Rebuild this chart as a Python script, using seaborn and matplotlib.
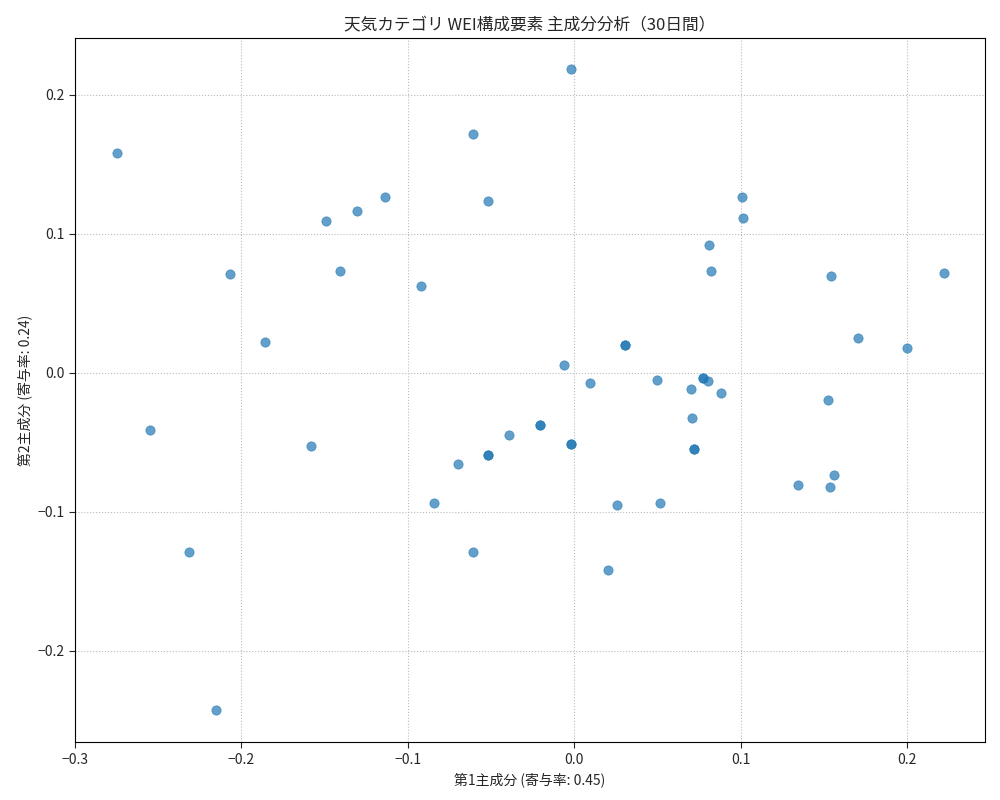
import matplotlib
matplotlib.use("Agg")
import matplotlib.pyplot as plt
import seaborn as sns
import pandas as pd

pc1 = [-0.2745,-0.2547,-0.2312,-0.215,-0.2066,-0.1856,-0.158,-0.149,-0.1405,-0.1303,
       -0.1135,-0.0919,-0.0841,-0.0697,-0.0607,-0.0607,-0.0517,-0.0517,-0.0517,-0.039,
       -0.0204,-0.0204,-0.006,-0.0018,-0.0018,-0.0018,0.0096,0.0204,0.0258,0.0306,0.0306,
       0.0498,0.0517,0.0703,0.0709,0.0721,0.0721,0.0775,0.0775,0.0805,0.0811,0.0823,0.0883,
       0.1009,0.1015,0.1345,0.1526,0.1538,0.1544,0.1562,0.1706,0.2,0.2222]
pc2 = [0.158,-0.041,-0.129,-0.2425,0.071,0.022,-0.053,0.109,0.073,0.1165,
       0.1266,0.062,-0.094,-0.066,0.172,-0.129,0.1237,-0.059,-0.059,-0.045,
       -0.038,-0.038,0.0058,0.2187,-0.051,-0.051,-0.0072,-0.1417,-0.095,0.020,0.020,
       -0.005,-0.0935,-0.0115,-0.0324,-0.0547,-0.0547,-0.0036,-0.0036,-0.0058,0.092,0.0734,-0.015,
       0.1266,0.1115,-0.081,-0.020,-0.082,0.0698,-0.074,0.025,0.018,0.072]

df = pd.DataFrame({"pc1": pc1, "pc2": pc2})
sns.set_style("white")
plt.rcParams['font.family'] = ['Noto Sans CJK JP', 'DejaVu Sans']
plt.rcParams['axes.unicode_minus'] = True

fig, ax = plt.subplots(figsize=(10, 8), dpi=100)
sns.scatterplot(data=df, x="pc1", y="pc2", ax=ax, color="#1f77b4", alpha=0.7, s=45, edgecolor="#1f77b4", linewidth=0.5)
ax.set_xlim(-0.3, 0.2468)
ax.set_ylim(-0.266, 0.241)
ax.set_xticks([-0.3, -0.2, -0.1, 0.0, 0.1, 0.2])
ax.set_yticks([-0.2, -0.1, 0.0, 0.1, 0.2])
ax.grid(True, linestyle=":", color="#bbbbbb", linewidth=0.8)
for s in ax.spines.values():
    s.set_color("black"); s.set_linewidth(0.8)
ax.tick_params(axis="both", length=4, direction="out", bottom=True, left=True)
ax.set_title("天気カテゴリ WEI構成要素 主成分分析（30日間）", fontsize=12)
ax.set_xlabel("第1主成分 (寄与率: 0.45)", fontsize=10)
ax.set_ylabel("第2主成分 (寄与率: 0.24)", fontsize=10)
fig.subplots_adjust(left=0.075, right=0.985, top=0.953, bottom=0.072)
fig.savefig("out.png")
